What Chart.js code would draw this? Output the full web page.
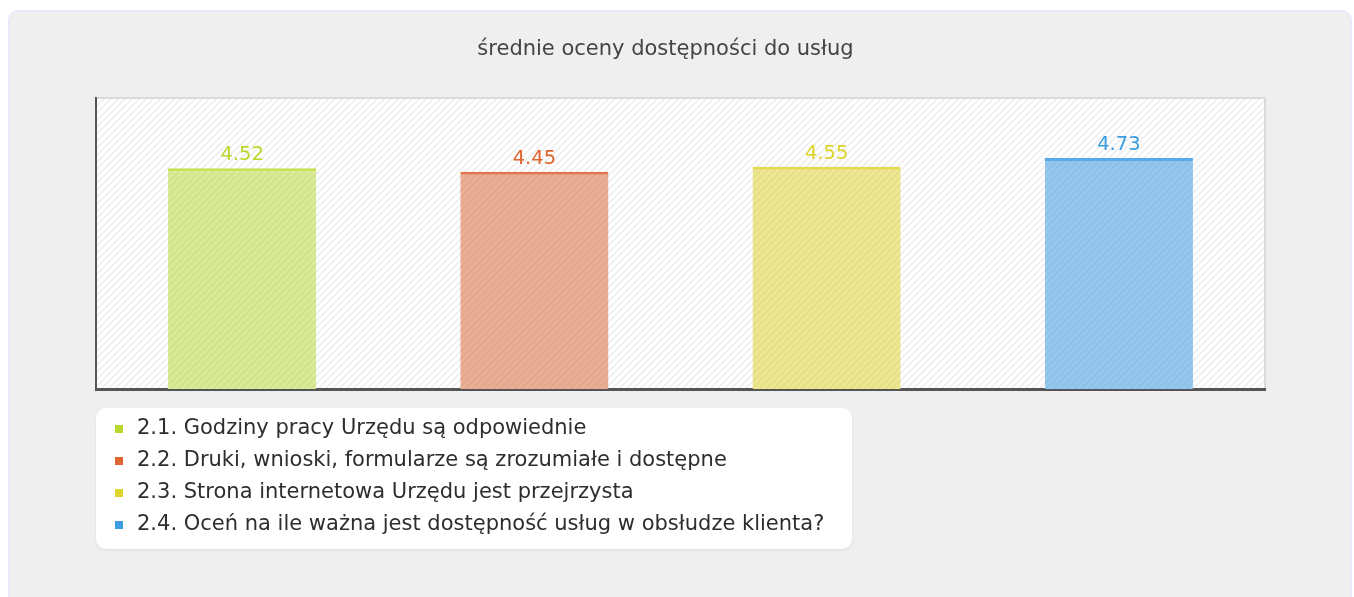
<!DOCTYPE html>
<html>
<head>
<meta charset="utf-8">
<script src="https://cdn.jsdelivr.net/npm/chart.js@4"></script>
<style>
  body { margin: 0; background: #ffffff; }
  #panel {
    position: absolute; left: 8px; top: 10px; width: 1340px; height: 600px;
    background: #efefef; border: 2px solid #e8e8fb; border-radius: 10px;
  }
  #wrap { position: absolute; left: 0; top: 0; width: 1354px; height: 597px; }
</style>
</head>
<body>
<div id="panel"></div>
<div id="wrap"><canvas id="chart" width="1354" height="597"></canvas></div>
<script>
var title = "średnie oceny dostępności do usług";
var categories = [
  "2.1. Godziny pracy Urzędu są odpowiednie",
  "2.2. Druki, wnioski, formularze są zrozumiałe i dostępne",
  "2.3. Strona internetowa Urzędu jest przejrzysta",
  "2.4. Oceń na ile ważna jest dostępność usług w obsłudze klienta?"
];
var values = [4.52, 4.45, 4.55, 4.73];
var baseColors = ["#b8d92a", "#e0652e", "#ddd42c", "#3a9de2"];
var fillColors = ["#d9eb94", "#ebae94", "#ede790", "#94c7ee"];
var lineColors = ["#c8e24e", "#e4744a", "#e2d94e", "#58aae6"];

var FONT = "'DejaVu Sans', Verdana, sans-serif";

function stripes(bg, line) {
  var n = 7;
  var c = document.createElement("canvas");
  c.width = n; c.height = n;
  var g = c.getContext("2d");
  g.fillStyle = bg;
  g.fillRect(0, 0, n, n);
  g.strokeStyle = line;
  g.lineWidth = 1.6;
  g.beginPath();
  g.moveTo(-1, n + 1); g.lineTo(n + 1, -1);
  g.moveTo(-1, 1); g.lineTo(1, -1);
  g.moveTo(n - 1, n + 1); g.lineTo(n + 1, n - 1);
  g.stroke();
  return g.createPattern(c, "repeat");
}

var ctx0 = document.getElementById("chart").getContext("2d");
var plotPattern = stripes("#ffffff", "#eeeeee");
var barPatterns = fillColors.map(function(c) { return stripes(c, "rgba(0,0,0,0.04)"); });

var plotBg = {
  id: "plotBg",
  beforeDraw: function(chart) {
    var a = chart.chartArea, c = chart.ctx;
    c.save();
    c.fillStyle = plotPattern;
    c.fillRect(a.left, a.top, a.right - a.left, a.bottom - a.top);
    c.strokeStyle = "#dadada";
    c.lineWidth = 2;
    c.beginPath();
    c.moveTo(a.left, a.top); c.lineTo(a.right, a.top); c.lineTo(a.right, a.bottom);
    c.stroke();
    // title, centred a little left of the plot like the original
    c.font = "21px " + FONT;
    c.fillStyle = "#444444";
    c.textAlign = "center";
    c.textBaseline = "middle";
    c.fillText(title, 665.5, 50);
    c.restore();
  }
};

var valueLabels = {
  id: "valueLabels",
  afterDatasetsDraw: function(chart) {
    var c = chart.ctx;
    var meta = chart.getDatasetMeta(0);
    c.save();
    c.font = "19.5px " + FONT;
    c.textAlign = "center";
    c.textBaseline = "alphabetic";
    meta.data.forEach(function(bar, i) {
      c.fillStyle = baseColors[i];
      c.fillText(values[i].toFixed(2), bar.x, bar.y - 8);
    });
    c.restore();
  }
};

var boxLegend = {
  id: "boxLegend",
  afterDraw: function(chart) {
    var c = chart.ctx, a = chart.chartArea;
    var x = a.left, y = a.bottom + 19, w = 756, h = 141, r = 10;
    c.save();
    c.shadowColor = "rgba(0,0,0,0.08)";
    c.shadowBlur = 3;
    c.shadowOffsetY = 1;
    c.fillStyle = "#ffffff";
    c.beginPath();
    c.roundRect(x, y, w, h, r);
    c.fill();
    c.shadowColor = "transparent";
    c.font = "21px " + FONT;
    c.textBaseline = "middle";
    categories.forEach(function(label, i) {
      var cy = y + 21 + i * 32;
      c.fillStyle = baseColors[i];
      c.fillRect(x + 19, cy - 4, 8, 8);
      c.fillStyle = "#2e2e2e";
      c.fillText(label, x + 41, cy);
    });
    c.restore();
  }
};

new Chart(ctx0, {
  type: "bar",
  data: {
    labels: categories,
    datasets: [{
      data: values,
      backgroundColor: barPatterns,
      borderColor: lineColors,
      borderWidth: { top: 3, left: 0, right: 0, bottom: 0 },
      borderSkipped: "bottom",
      barPercentage: 0.507,
      categoryPercentage: 1.0
    }]
  },
  options: {
    responsive: false,
    animation: false,
    layout: { padding: { left: 96, right: 89, top: 98, bottom: 208 } },
    plugins: {
      legend: { display: false },
      tooltip: { enabled: false },
      title: { display: false }
    },
    scales: {
      x: {
        grid: { display: false, drawTicks: false },
        ticks: { display: false },
        border: { display: true, color: "#555555", width: 3 }
      },
      y: {
        min: 0,
        max: 5.96,
        grid: { display: false, drawTicks: false },
        ticks: { display: false },
        border: { display: true, color: "#555555", width: 2 }
      }
    }
  },
  plugins: [plotBg, valueLabels, boxLegend]
});
</script>
</body>
</html>
